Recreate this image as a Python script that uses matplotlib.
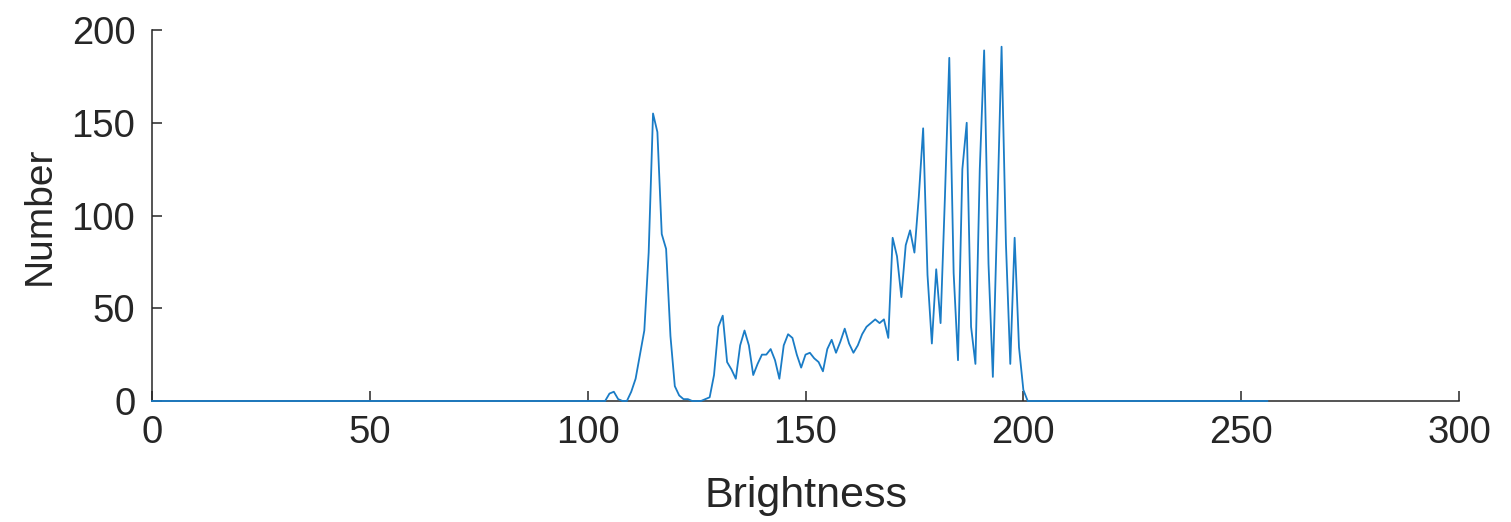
import numpy as np
import matplotlib
matplotlib.use("Agg")
import matplotlib.pyplot as plt

plt.rcParams['font.family'] = ['Liberation Sans', 'DejaVu Sans']

# Histogram data: brightness levels and counts (non-zero region)
brightness = np.arange(0, 257)
first_level = 104
counts_nonzero = [
    0, 4, 5, 1, 0, 0, 5, 12, 25, 38,          # 104-113
    80, 155, 145, 90, 82, 35, 8, 3, 1, 1,     # 114-123
    0, 0, 0, 1, 2, 14, 40, 46, 21, 17,        # 124-133
    12, 30, 38, 30, 14, 20, 25, 25, 28, 22,   # 134-143
    12, 30, 36, 34, 25, 18, 25, 26, 23, 21,   # 144-153
    16, 28, 33, 26, 32, 39, 31, 26, 30, 36,   # 154-163
    40, 42, 44, 42, 44, 34, 88, 78, 56, 84,   # 164-173
    92, 80, 110, 147, 68, 31, 71, 42, 110, 185,  # 174-183
    69, 22, 125, 150, 40, 20, 125, 189, 74, 13,  # 184-193
    100, 191, 85, 20, 88, 29, 6, 0,           # 194-201
]
counts = np.zeros(len(brightness))
counts[first_level:first_level + len(counts_nonzero)] = counts_nonzero

x_ticks = [0, 50, 100, 150, 200, 250, 300]
y_ticks = [0, 50, 100, 150, 200]

fig = plt.figure(figsize=(15.11, 5.22), dpi=100)
ax = fig.add_axes([0.1006, 0.2318, 0.865, 0.7107])

ax.plot(brightness, counts, color='#1a7cc6', lw=1.3, zorder=3, clip_on=False)

ax.set_xlim(0, 300)
ax.set_ylim(0, 200)
ax.set_xticks(x_ticks)
ax.set_yticks(y_ticks)

for s in ['top', 'right']:
    ax.spines[s].set_visible(False)
for s in ['left', 'bottom']:
    ax.spines[s].set_color('#262626')
    ax.spines[s].set_linewidth(1.1)

ax.tick_params(direction='in', length=7, width=1.1, color='#262626',
               labelsize=27.5, labelcolor='#262626')
ax.tick_params(axis='x', pad=10)
ax.tick_params(axis='y', pad=12)

ax.set_xlabel('Brightness', fontsize=31, color='#262626', labelpad=18)
ax.set_ylabel('Number', fontsize=28, color='#262626', labelpad=10)

fig.savefig('out.png', dpi=100)
